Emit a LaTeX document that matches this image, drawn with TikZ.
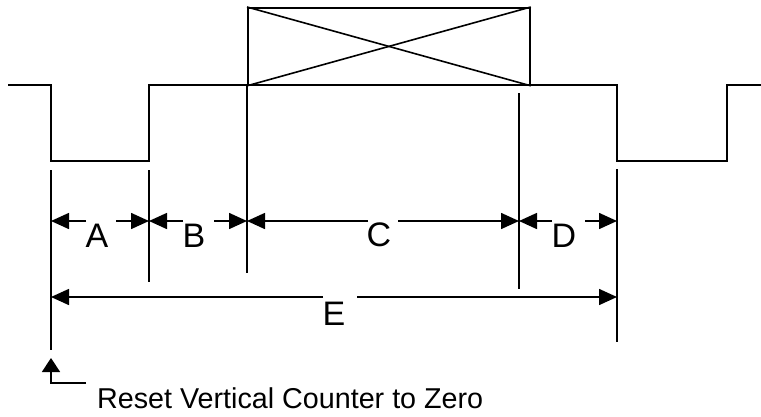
\documentclass[tikz,border=0pt]{standalone}
\usepackage{fontspec}
\setmainfont{Liberation Sans}
\usetikzlibrary{arrows.meta}
\tikzset{
  wire/.style={line width=1.8pt, line join=miter},
  ext/.style={line width=1.8pt},
  dimarr/.style={line width=1.6pt, -{Triangle[length=18pt,width=16pt]}},
  lbl/.style={anchor=base, inner sep=0pt, font=\fontsize{34}{37}\selectfont},
  note/.style={anchor=base west, inner sep=0pt, font=\fontsize{28.7}{32}\selectfont},
}
\begin{document}
\begin{tikzpicture}[x=1pt,y=-1pt]
\useasboundingbox (0,0) rectangle (761,416);
% waveform
\draw[wire] (8,85) -- (51,85) -- (51,161) -- (149,161) -- (149,85) -- (617,85)
  -- (617,161) -- (727,161) -- (727,85) -- (761,85);
% box with cross
\node[draw, line width=1.8pt, minimum width=282pt, minimum height=77pt, inner sep=0pt, anchor=north west] (box) at (247,7) {};
\draw[line width=1.6pt] (box.north west) -- (box.south east);
\draw[line width=1.6pt] (box.south west) -- (box.north east);
% extension lines
\coordinate (e1t) at (51,170);  \coordinate (e1b) at (51,350);
\coordinate (e2t) at (149,170); \coordinate (e2b) at (149,282);
\coordinate (e3t) at (247,85);  \coordinate (e3b) at (247,273);
\coordinate (e4t) at (519,93);  \coordinate (e4b) at (519,289);
\coordinate (e5t) at (617,169); \coordinate (e5b) at (617,342);
\draw[ext] (e1t) -- (e1b);
\draw[ext] (e2t) -- (e2b);
\draw[ext] (e3t) -- (e3b);
\draw[ext] (e4t) -- (e4b);
\draw[ext] (e5t) -- (e5b);
% labels
\node[lbl] (A) at (97,247) {A};
\node[lbl] (B) at (194,247) {B};
\node[lbl] (C) at (379,246) {C};
\node[lbl] (D) at (564,247) {D};
\node[lbl] (E) at (334,325) {E};
% dimension line points
\coordinate (a1) at (51,221);  \coordinate (a2) at (86,221);  \coordinate (a3) at (116,221); \coordinate (a4) at (149,221);
\coordinate (b2) at (183,221); \coordinate (b3) at (214,221); \coordinate (b4) at (247,221);
\coordinate (c2) at (368,221); \coordinate (c3) at (398,221); \coordinate (c4) at (519,221);
\coordinate (d2) at (552,221); \coordinate (d3) at (585,221); \coordinate (d4) at (617,221);
\coordinate (x1) at (51,297);  \coordinate (x2) at (323,297); \coordinate (x3) at (357,297); \coordinate (x4) at (617,297);
\draw[dimarr] (a2) -- (a1);
\draw[dimarr] (a3) -- (a4);
\draw[dimarr] (b2) -- (a4);
\draw[dimarr] (b3) -- (b4);
\draw[dimarr] (c2) -- (b4);
\draw[dimarr] (c3) -- (c4);
\draw[dimarr] (d2) -- (c4);
\draw[dimarr] (d3) -- (d4);
\draw[dimarr] (x2) -- (x1);
\draw[dimarr] (x3) -- (x4);
% reset note
\node[note] (note) at (97,408) {Reset Vertical Counter to Zero};
\coordinate (n1) at (86,383);
\coordinate (n2) at (51,383);
\coordinate (n3) at (51,358);
\draw[line width=1.6pt, -{Triangle[length=14pt,width=18pt]}] (n1) -- (n2) -- (n3);
\end{tikzpicture}
\end{document}
